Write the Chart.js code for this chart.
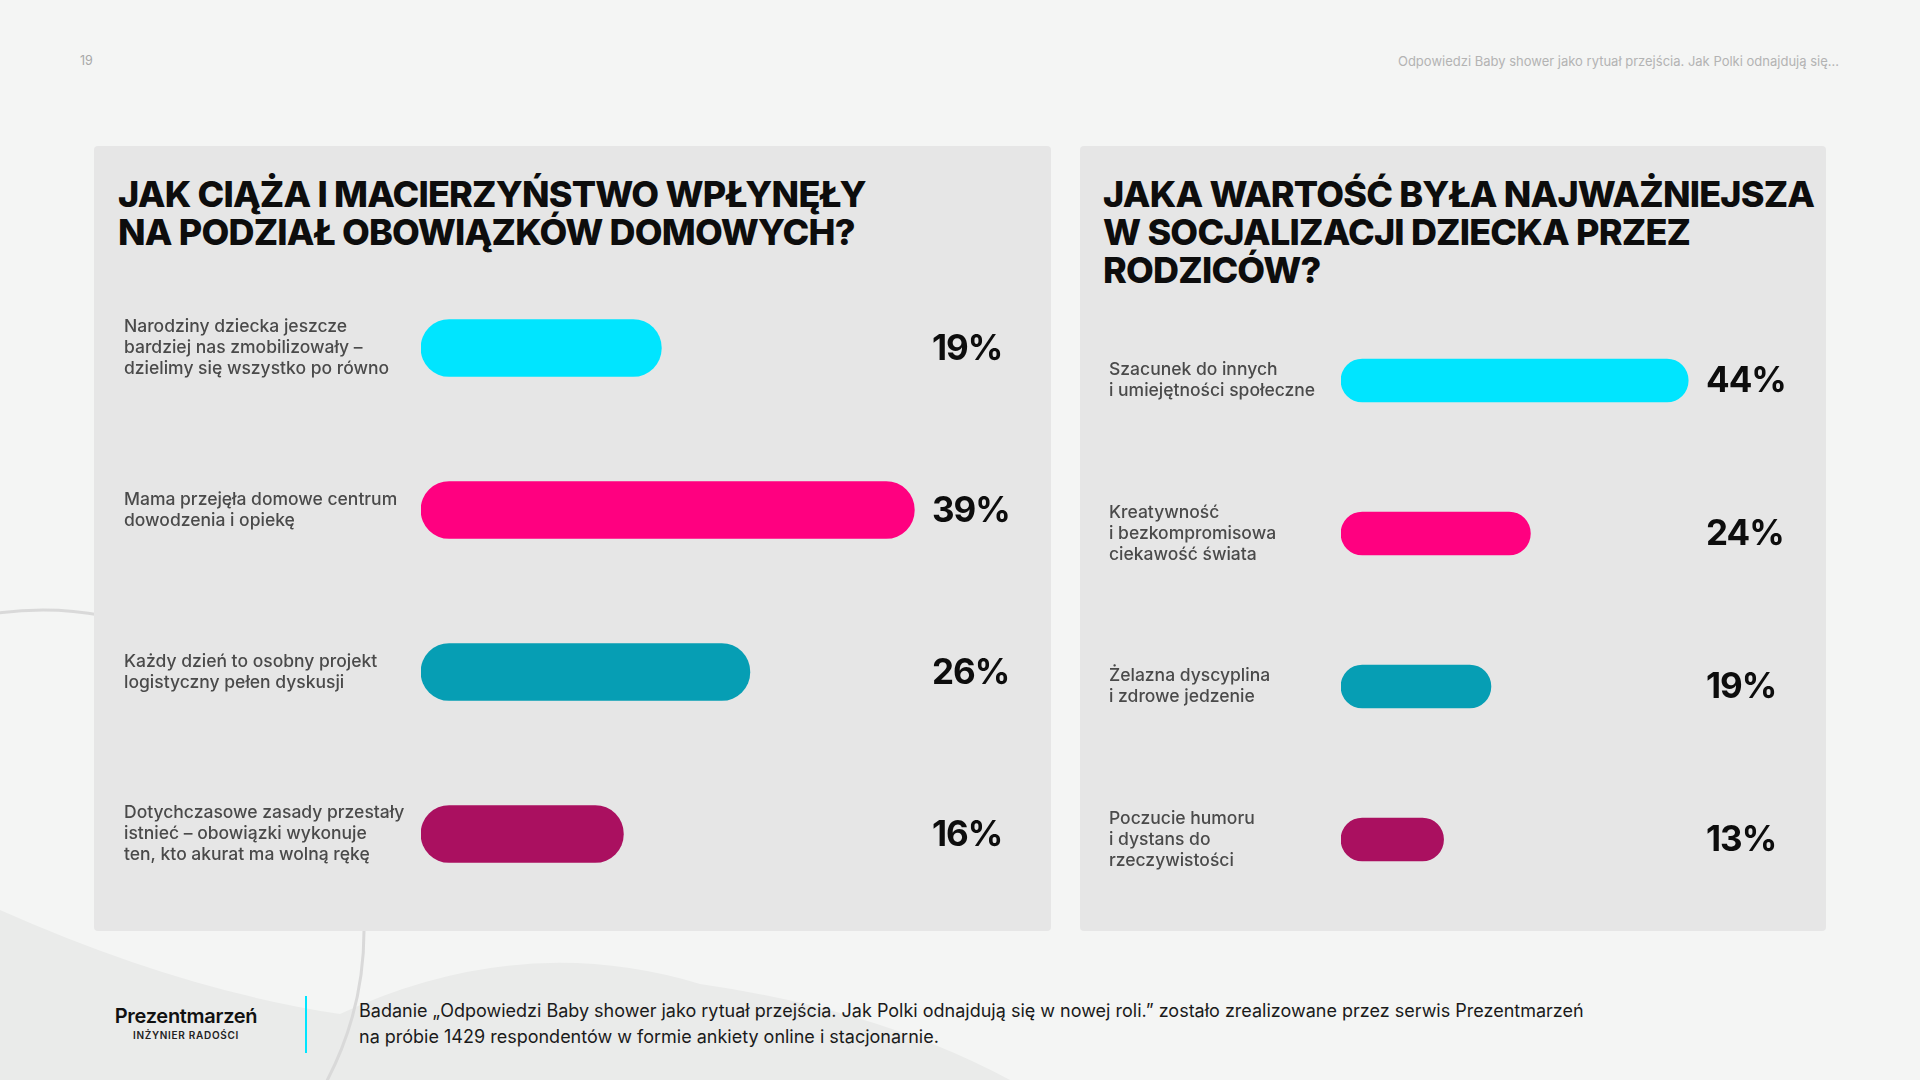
<!DOCTYPE html>
<html lang="pl">
<head>
<meta charset="utf-8">
<title>Baby shower – wykresy</title>
<script src="https://cdn.jsdelivr.net/npm/chart.js@4.4.1/dist/chart.umd.min.js"></script>
<style>
    body {
        margin: 0;
        width: 1920px;
        height: 1080px;
        position: relative;
        overflow: hidden;
        background: #f4f5f4;
        font-family: Inter, "Noto Sans", sans-serif;
    }
    .deco { position: absolute; left: 0; top: 0; }
    .panel {
        position: absolute;
        top: 146px;
        height: 785px;
        background: #e6e6e6;
        border-radius: 4px;
    }
    .title {
        position: absolute;
        top: 175px;
        font-weight: 800;
        font-size: 36px;
        line-height: 38px;
        color: #0d0d0d;
        letter-spacing: -0.8px;
        margin: 0;
    }
    .box { position: absolute; }
    .pagenum { position: absolute; left: 80px; top: 53px; font-size: 12.5px; color: #a8a8a8; }
    .runhead { position: absolute; right: 81px; top: 53px; font-size: 13px; color: #b3b3b3; }
    .logo { position: absolute; left: 110px; top: 1005px; width: 152px; text-align: center; }
    .logo .name { font-size: 20px; font-weight: 600; color: #111; letter-spacing: -0.3px; line-height: 23px; }
    .logo .sub { font-size: 10px; font-weight: 600; color: #222; letter-spacing: 0.7px; line-height: 14px; }
    .sep { position: absolute; left: 305px; top: 996px; width: 2px; height: 57px; background: #00e5ff; }
    .note { position: absolute; left: 359px; top: 998px; font-size: 18px; line-height: 26px; color: #1a1a1a; }
</style>
</head>
<body>
<svg class="deco" width="1920" height="1080">
    <path d="M0,910 Q180,990 340,1014 Q520,930 700,984 Q880,1010 1010,1080 L0,1080 Z" fill="#eaebea"/>
    <circle cx="43" cy="931" r="321" fill="none" stroke="#d9d9d9" stroke-width="3"/>
</svg>

<div class="pagenum">19</div>
<div class="runhead">Odpowiedzi Baby shower jako rytuał przejścia. Jak Polki odnajdują się...</div>

<div class="panel" style="left:94px;width:957px"></div>
<div class="panel" style="left:1080px;width:746px"></div>

<h2 class="title" style="left:118px">JAK CIĄŻA I MACIERZYŃSTWO WPŁYNĘŁY<br>NA PODZIAŁ OBOWIĄZKÓW DOMOWYCH?</h2>
<h2 class="title" style="left:1103px">JAKA WARTOŚĆ BYŁA NAJWAŻNIEJSZA<br>W SOCJALIZACJI DZIECKA PRZEZ<br>RODZICÓW?</h2>

<div class="box" style="left:124px;top:267px;width:893px;height:648px"><canvas id="wykresLewy"></canvas></div>
<div class="box" style="left:1109px;top:304px;width:685px;height:612px"><canvas id="wykresPrawy"></canvas></div>

<div class="logo"><div class="name">Prezentmarzeń</div><div class="sub">INŻYNIER RADOŚCI</div></div>
<div class="sep"></div>
<div class="note">Badanie „Odpowiedzi Baby shower jako rytuał przejścia. Jak Polki odnajdują się w nowej roli.” zostało zrealizowane przez serwis Prezentmarzeń<br>na próbie 1429 respondentów w formie ankiety online i stacjonarnie.</div>

<script>
// dane - obowiazki domowe
const obowiazkiLabels = [
    ['Narodziny dziecka jeszcze', 'bardziej nas zmobilizowały –', 'dzielimy się wszystko po równo'],
    ['Mama przejęła domowe centrum', 'dowodzenia i opiekę'],
    ['Każdy dzień to osobny projekt', 'logistyczny pełen dyskusji'],
    ['Dotychczasowe zasady przestały', 'istnieć – obowiązki wykonuje', 'ten, kto akurat ma wolną rękę']
];
const obowiazkiValues = [19, 39, 26, 16];

// dane - wartosci w socjalizacji
const wartosciLabels = [
    ['Szacunek do innych', 'i umiejętności społeczne'],
    ['Kreatywność', 'i bezkompromisowa', 'ciekawość świata'],
    ['Żelazna dyscyplina', 'i zdrowe jedzenie'],
    ['Poczucie humoru', 'i dystans do', 'rzeczywistości']
];
const wartosciValues = [44, 24, 19, 13];

const kolory = ['#00e5ff', '#ff0080', '#069eb4', '#aa1060'];

// procenty po prawej stronie paskow
const procentyPlugin = {
    id: 'procenty',
    afterDatasetsDraw(chart, args, opts) {
        const ctx = chart.ctx;
        const meta = chart.getDatasetMeta(0);
        ctx.save();
        ctx.font = '700 35px Inter';
        ctx.letterSpacing = '-1px';
        ctx.fillStyle = '#0d0d0d';
        ctx.textAlign = 'left';
        ctx.textBaseline = 'middle';
        meta.data.forEach((bar, i) => {
            ctx.fillText(chart.data.datasets[0].data[i] + '%', chart.chartArea.right + opts.offset, bar.y + 1);
        });
        ctx.restore();
    }
};

function rysuj(id, labels, values, max, axisWidth, thickness, padRight, offset) {
    const ctx = document.getElementById(id).getContext('2d');
    new Chart(ctx, {
        type: 'bar',
        data: {
            labels: labels,
            datasets: [{
                data: values,
                backgroundColor: kolory,
                borderRadius: thickness / 2,
                borderSkipped: false,
                barThickness: thickness
            }]
        },
        options: {
            indexAxis: 'y',
            responsive: true,
            maintainAspectRatio: false,
            animation: false,
            layout: { padding: { left: 0, right: padRight, top: 0, bottom: 0 } },
            plugins: {
                legend: { display: false },
                tooltip: { enabled: false },
                procenty: { offset: offset }
            },
            scales: {
                x: { display: false, min: 0, max: max },
                y: {
                    grid: { display: false },
                    border: { display: false },
                    ticks: {
                        crossAlign: 'far',
                        padding: 0,
                        color: '#4a4a4a',
                        font: { family: 'Inter', size: 17.5, weight: 500, lineHeight: 1.2 }
                    },
                    afterFit: scale => {
                        scale.width = axisWidth;
                        scale.paddingTop = 0;
                        scale.paddingBottom = 0;
                    }
                }
            }
        },
        plugins: [procentyPlugin]
    });
}

rysuj('wykresLewy', obowiazkiLabels, obowiazkiValues, 40, 297, 57, 90, 5);
rysuj('wykresPrawy', wartosciLabels, wartosciValues, 46, 232, 43, 90, 2);
</script>
</body>
</html>
